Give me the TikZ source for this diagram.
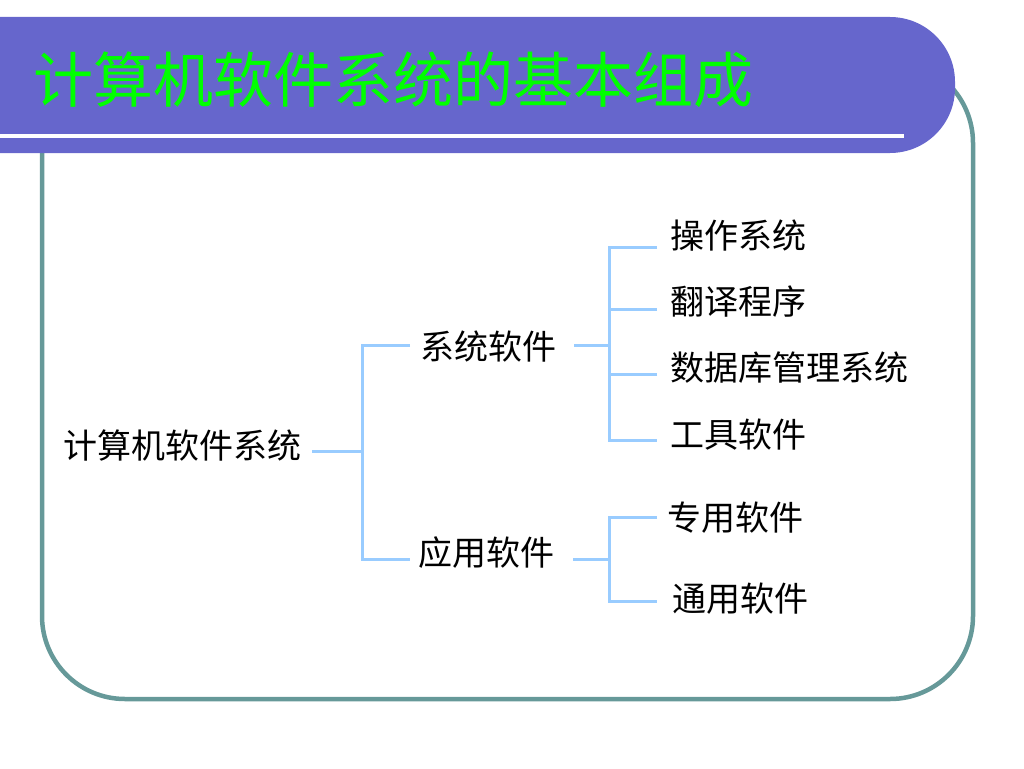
\documentclass[tikz,border=0pt]{standalone}
\usepackage{fontspec}
\newfontfamily\cjk{Noto Sans CJK SC}
\definecolor{barblue}{HTML}{6666CC}
\definecolor{framegreen}{HTML}{669999}
\definecolor{linkblue}{HTML}{99CCFF}
\definecolor{titlegreen}{HTML}{00FF00}

\begin{document}
\begin{tikzpicture}[x = 1pt, y = -1pt]

\tikzstyle{item}=[anchor=west, inner sep=0pt, font=\cjk\fontsize{34}{40}\selectfont]
\tikzstyle{link}=[linkblue, line width=3pt]
\tikzstyle{frame}=[framegreen, line width=4.5pt, rounded corners=83pt]

\useasboundingbox (0,0) rectangle (1024,768);

% frame and title bar
\draw [frame] (42,60) rectangle (973,699);
\fill [barblue, rounded corners=65pt] (-100,17) rectangle (955,153);
\draw [white, line width=4pt] (-10,136) -- (904,136);
\node (T) [anchor=west, inner sep=0pt, text=titlegreen, font=\cjk\fontsize{60}{70}\selectfont] at (33,80) {计算机软件系统的基本组成};

\node (R)  [item] at (63,446)  {计算机软件系统};
\node (S)  [item] at (420,347) {系统软件};
\node (A)  [item] at (418,553) {应用软件};

\node (S1) [item] at (670,236) {操作系统};
\node (S2) [item] at (670,302) {翻译程序};
\node (S3) [item] at (670,368) {数据库管理系统};
\node (S4) [item] at (670,435) {工具软件};

\node (A1) [item] at (667,518) {专用软件};
\node (A2) [item] at (672,599) {通用软件};

\coordinate (jR) at (362,451);
\coordinate (jS) at (609,345);
\coordinate (jA) at (609,559);

% root
\draw [link] ([xshift=11pt, yshift=-5pt]R.east) -- (jR);
\draw [link] ([xshift=-10pt, yshift=2pt]S.west) -| (jR) |- ([xshift=-8pt, yshift=-6pt]A.west);

% system software
\draw [link] ([xshift=18pt, yshift=2pt]S.east) -- (jS);
\draw [link] ([xshift=-13pt, yshift=-11pt]S1.west) -| (jS) |- ([xshift=-13pt, yshift=-5pt]S4.west);
\draw [link] ([xshift=-13pt, yshift=-7pt]S2.west) -- ++(-48,0);
\draw [link] ([xshift=-13pt, yshift=-6pt]S3.west) -- ++(-48,0);

% application software
\draw [link] ([xshift=19pt, yshift=-6pt]A.east) -- (jA);
\draw [link] ([xshift=-10pt, yshift=1pt]A1.west) -| (jA) |- ([xshift=-15pt, yshift=-2pt]A2.west);

\end{tikzpicture}
\end{document}
